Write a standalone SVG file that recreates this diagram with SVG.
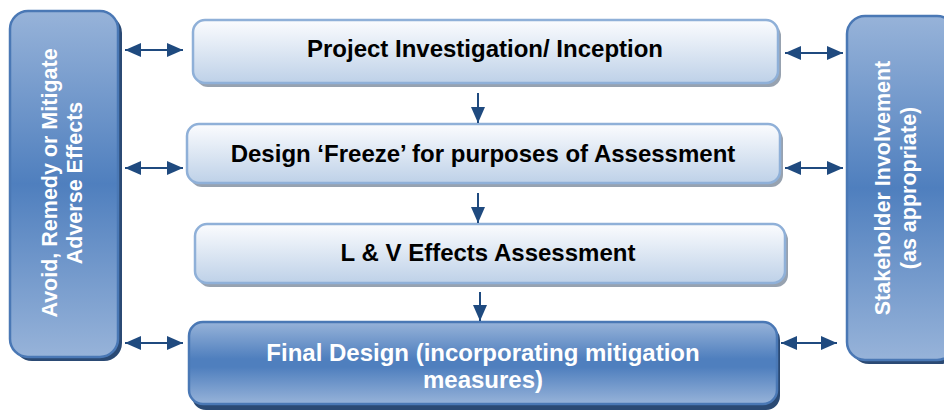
<svg xmlns="http://www.w3.org/2000/svg" width="944" height="410" viewBox="0 0 944 410">
<style>
.lt{font-family:"Liberation Sans",Arial,sans-serif;font-weight:bold;font-size:24px;fill:#000;text-anchor:middle}
.wt{font-family:"Liberation Sans",Arial,sans-serif;font-weight:bold;font-size:24px;fill:#fff;text-anchor:middle}
.vt{font-family:"Liberation Sans",Arial,sans-serif;font-weight:bold;font-size:21.5px;fill:#fff;text-anchor:middle}
.lbox{fill:url(#lg);stroke:#8fb0d8;stroke-width:2.5}
.dbox{fill:url(#dg);stroke:#4a78b5;stroke-width:2.5}
.lsh{fill:#97a2b0}
.dsh{fill:#2b4a74}
.con{stroke:#1f4a7f;stroke-width:2;fill:none}
</style>
<defs>
<linearGradient id="lg" x1="0" y1="0" x2="0" y2="1">
<stop offset="0" stop-color="#fbfcfe"/>
<stop offset="1" stop-color="#bed1e8"/>
</linearGradient>
<linearGradient id="dg" x1="0" y1="0" x2="0" y2="1">
<stop offset="0" stop-color="#97b3d9"/>
<stop offset="0.45" stop-color="#4f7fbe"/>
<stop offset="0.55" stop-color="#4f7fbe"/>
<stop offset="1" stop-color="#97b3d9"/>
</linearGradient>
<linearGradient id="dgh" x1="0" y1="0" x2="0" y2="1">
<stop offset="0" stop-color="#97b3d9"/>
<stop offset="0.5" stop-color="#4f7fbe"/>
<stop offset="1" stop-color="#97b3d9"/>
</linearGradient>
<marker id="ah2" viewBox="0 0 16 14" refX="16" refY="7" markerWidth="16" markerHeight="14" markerUnits="userSpaceOnUse" orient="auto-start-reverse">
<path d="M0,0 L16,7 L0,14 z" fill="#1f4a7f"/>
</marker>
</defs>

<g id="node-avoid">
<rect x="14" y="15" width="108" height="346" rx="18" class="dsh"/>
<rect x="10" y="11" width="108" height="346" rx="18" fill="url(#dgh)" stroke="#4a78b5" stroke-width="2.5"/>
<text class="vt" transform="translate(57,183) rotate(-90)">Avoid, Remedy or Mitigate</text>
<text class="vt" transform="translate(82,183) rotate(-90)">Adverse Effects</text>
</g>

<g id="node-stakeholder">
<rect x="851" y="20" width="108" height="344" rx="18" class="dsh"/>
<rect x="847" y="16" width="108" height="344" rx="18" fill="url(#dgh)" stroke="#4a78b5" stroke-width="2.5"/>
<text class="vt" transform="translate(890,188) rotate(-90)">Stakeholder Involvement</text>
<text class="vt" transform="translate(916,188) rotate(-90)">(as appropriate)</text>
</g>

<g id="node-inception">
<rect x="196" y="24" width="585" height="63" rx="12" class="lsh"/>
<rect x="193" y="20" width="585" height="63" rx="12" class="lbox"/>
<text class="lt" x="485" y="57">Project Investigation/ Inception</text>
</g>

<g id="node-freeze">
<rect x="190" y="128" width="593" height="59" rx="12" class="lsh"/>
<rect x="187" y="124" width="593" height="59" rx="12" class="lbox"/>
<text class="lt" x="483" y="162">Design ‘Freeze’ for purposes of Assessment</text>
</g>

<g id="node-assessment">
<rect x="198" y="228" width="590" height="59" rx="12" class="lsh"/>
<rect x="195" y="224" width="590" height="59" rx="12" class="lbox"/>
<text class="lt" x="488" y="261">L &amp; V Effects Assessment</text>
</g>

<g id="node-final">
<rect x="192" y="326" width="588" height="84" rx="14" class="dsh"/>
<rect x="189" y="322" width="588" height="82" rx="14" class="dbox"/>
<text class="wt" x="483" y="361">Final Design (incorporating mitigation</text>
<text class="wt" x="483" y="388">measures)</text>
</g>

<g id="connectors">
<line class="con" x1="125" y1="50" x2="183" y2="50" marker-start="url(#ah2)" marker-end="url(#ah2)"/>
<line class="con" x1="125" y1="168" x2="183" y2="168" marker-start="url(#ah2)" marker-end="url(#ah2)"/>
<line class="con" x1="125" y1="343" x2="183" y2="343" marker-start="url(#ah2)" marker-end="url(#ah2)"/>
<line class="con" x1="785" y1="53" x2="843" y2="53" marker-start="url(#ah2)" marker-end="url(#ah2)"/>
<line class="con" x1="785" y1="168" x2="843" y2="168" marker-start="url(#ah2)" marker-end="url(#ah2)"/>
<line class="con" x1="781" y1="343" x2="837" y2="343" marker-start="url(#ah2)" marker-end="url(#ah2)"/>
<line class="con" x1="478" y1="93" x2="478" y2="123" marker-end="url(#ah2)"/>
<line class="con" x1="478" y1="193" x2="478" y2="223" marker-end="url(#ah2)"/>
<line class="con" x1="480" y1="292" x2="480" y2="321" marker-end="url(#ah2)"/>
</g>
</svg>
